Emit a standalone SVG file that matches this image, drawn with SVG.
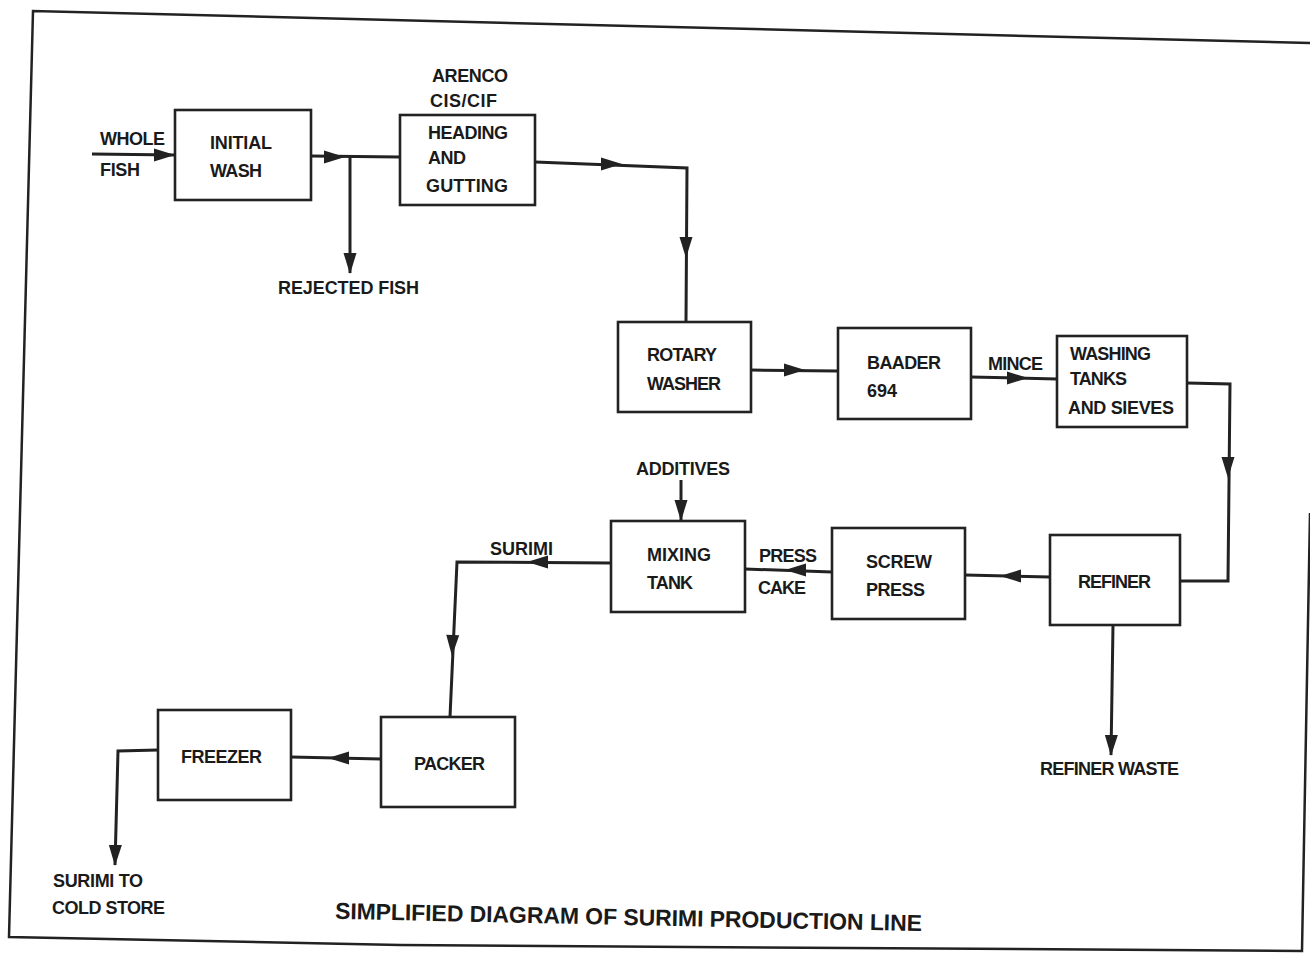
<svg xmlns="http://www.w3.org/2000/svg" xmlns:xlink="http://www.w3.org/1999/xlink" width="1310" height="959" viewBox="0 0 1310 959">
<defs>
<style>
.box{fill:#fff;stroke:#222;stroke-width:2.6}
.ln{fill:none;stroke:#222;stroke-width:3;stroke-linejoin:miter}
.frame{fill:none;stroke:#222;stroke-width:2.5}
text{font-family:"Liberation Sans",Arial,Helvetica,sans-serif;font-size:18px;font-weight:bold;fill:#1a1a1a}
.title{font-size:23px}
</style>
<path id="ah" d="M0,0 L-21,-6.5 L-21,6.5 Z" fill="#222"/>
</defs>
<rect width="1310" height="959" fill="#fff"/>
<g id="frame">
<polyline class="frame" points="1310,43 33,11 9,937 400,945 1302,951 1310,513"/>
</g>
<g id="connectors">
<path class="ln" d="M92,154 L175,155"/>
<use xlink:href="#ah" transform="translate(175,155)"/>
<path class="ln" d="M311,156 L400,157"/>
<use xlink:href="#ah" transform="translate(345,157)"/>
<path class="ln" d="M350,157 L350,273"/>
<use xlink:href="#ah" transform="translate(350,274) rotate(90)"/>
<path class="ln" d="M535,162 L687,168 L686,322"/>
<use xlink:href="#ah" transform="translate(622,164)"/>
<use xlink:href="#ah" transform="translate(686,258) rotate(90)"/>
<path class="ln" d="M751,370 L838,371"/>
<use xlink:href="#ah" transform="translate(805,370)"/>
<path class="ln" d="M971,377 L1057,379"/>
<use xlink:href="#ah" transform="translate(1028,378)"/>
<path class="ln" d="M1187,383 L1230,384 L1228,581 L1180,581"/>
<use xlink:href="#ah" transform="translate(1228,478) rotate(90)"/>
<path class="ln" d="M1050,577 L965,575"/>
<use xlink:href="#ah" transform="translate(1000,576) rotate(180)"/>
<path class="ln" d="M832,572 L745,569"/>
<use xlink:href="#ah" transform="translate(785,570) rotate(180)"/>
<path class="ln" d="M681,480 L681,520"/>
<use xlink:href="#ah" transform="translate(681,521) rotate(90)"/>
<path class="ln" d="M611,563 L457,562 L450,717"/>
<use xlink:href="#ah" transform="translate(527,562) rotate(180)"/>
<use xlink:href="#ah" transform="translate(452,656) rotate(92)"/>
<path class="ln" d="M381,759 L291,757"/>
<use xlink:href="#ah" transform="translate(328,758) rotate(180)"/>
<path class="ln" d="M158,750 L118,751 L115,865"/>
<use xlink:href="#ah" transform="translate(115,866) rotate(91)"/>
<path class="ln" d="M1113,625 L1111,755"/>
<use xlink:href="#ah" transform="translate(1111,756) rotate(91)"/>
</g>
<g id="initial-wash"><rect class="box" x="175" y="110" width="136" height="90"/><text x="210" y="149" textLength="62">INITIAL</text><text x="210" y="177" textLength="52">WASH</text></g>
<g id="heading-gutting"><rect class="box" x="400" y="115" width="135" height="90"/><text x="428" y="139" textLength="80">HEADING</text><text x="428" y="164" textLength="38">AND</text><text x="426" y="192" textLength="82">GUTTING</text></g>
<g id="rotary-washer"><rect class="box" x="618" y="322" width="133" height="90"/><text x="647" y="361" textLength="70">ROTARY</text><text x="647" y="390" textLength="74">WASHER</text></g>
<g id="baader"><rect class="box" x="838" y="328" width="133" height="91"/><text x="867" y="369" textLength="74">BAADER</text><text x="867" y="397">694</text></g>
<g id="washing-tanks"><rect class="box" x="1057" y="336" width="130" height="91"/><text x="1070" y="360" textLength="81">WASHING</text><text x="1070" y="385" textLength="57">TANKS</text><text x="1068" y="414" textLength="106">AND SIEVES</text></g>
<g id="refiner"><rect class="box" x="1050" y="535" width="130" height="90"/><text x="1078" y="588" textLength="73">REFINER</text></g>
<g id="screw-press"><rect class="box" x="832" y="528" width="133" height="91"/><text x="866" y="568" textLength="66">SCREW</text><text x="866" y="596" textLength="59">PRESS</text></g>
<g id="mixing-tank"><rect class="box" x="611" y="521" width="134" height="91"/><text x="647" y="561" textLength="64">MIXING</text><text x="647" y="589" textLength="46">TANK</text></g>
<g id="packer"><rect class="box" x="381" y="717" width="134" height="90"/><text x="414" y="770" textLength="71">PACKER</text></g>
<g id="freezer"><rect class="box" x="158" y="710" width="133" height="90"/><text x="181" y="763" textLength="81">FREEZER</text></g>
<g id="labels">
<text x="432" y="82" textLength="76">ARENCO</text>
<text x="430" y="107" textLength="67">CIS/CIF</text>
<text x="100" y="145" textLength="65">WHOLE</text>
<text x="100" y="176" textLength="40">FISH</text>
<text x="278" y="294" textLength="141">REJECTED FISH</text>
<text x="988" y="370" textLength="55">MINCE</text>
<text x="759" y="562" textLength="58">PRESS</text>
<text x="758" y="594" textLength="48">CAKE</text>
<text x="636" y="475" textLength="94">ADDITIVES</text>
<text x="490" y="555" textLength="63">SURIMI</text>
<text x="1040" y="775" textLength="139">REFINER WASTE</text>
<text x="53" y="887" textLength="90">SURIMI TO</text>
<text x="52" y="914" textLength="113">COLD STORE</text>
<text class="title" x="335" y="925" textLength="587" transform="rotate(1.2 628 918)">SIMPLIFIED DIAGRAM OF SURIMI PRODUCTION LINE</text>
</g>
</svg>
